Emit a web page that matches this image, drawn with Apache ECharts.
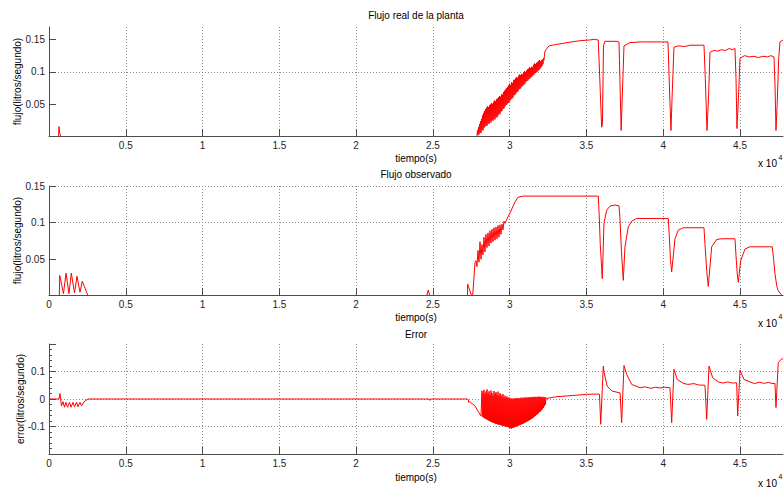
<!DOCTYPE html>
<html><head><meta charset="utf-8">
<script src="https://cdn.jsdelivr.net/npm/echarts@6/dist/echarts.min.js"></script>
<style>html,body{margin:0;padding:0;background:#fff}#c{width:784px;height:489px}</style>
</head><body><div id="c"></div>
<script>
// ---- data (time in seconds, flow in litros/segundo) ----
const t1 = [0, 620, 650, 690, 730, 760, 27800,
27871, 27904, 27936, 27969, 28002, 28034, 28067, 28099, 28132, 28164, 28197, 28230, 28262, 28295, 28327, 28360, 28392, 28425, 28457, 28490, 28523, 28555, 28588, 28620, 28653, 28685, 28718, 28750, 28783, 28815, 28848, 28881, 28913, 28946, 28978, 29011, 29044, 29076, 29109, 29141, 29174, 29206, 29239, 29271, 29304, 29337, 29369, 29402, 29434, 29467, 29499, 29532, 29565, 29597, 29630, 29662, 29695, 29727, 29760, 29792, 29825, 29858, 29890, 29923, 29955, 29988, 30020, 30053, 30085, 30118, 30151, 30183, 30216, 30248, 30281, 30313, 30346, 30378, 30411, 30444, 30476, 30509, 30541, 30574, 30606, 30639, 30672, 30704, 30737, 30769, 30802, 30834, 30867, 30900, 30932, 30965, 30997, 31030, 31062, 31095, 31127, 31160, 31193, 31225, 31258, 31290, 31323, 31355, 31388, 31420, 31453, 31486, 31518, 31551, 31583, 31616, 31648, 31681, 31714, 31746, 31779, 31811, 31844, 31876, 31909, 31941, 31974, 32007, 32039, 32072, 32104, 32137, 32169, 32202, 32235, 32267, 32300,
32560, 33000, 33500, 34000, 34600, 35200, 35500, 35771, 35900, 35990, 36040, 36110, 36200, 36533, 37000, 37119, 37190, 37260, 37330, 37445, 37836, 38500, 39138, 39800, 40310, 40400, 40505, 40590, 40701, 41000, 41400, 41743, 42200, 42655, 42740, 42850, 42950, 43045, 43300, 43550, 43800, 44050, 44300, 44500, 44673, 44740, 44803, 44900, 45000, 45300, 45600, 45900, 46200, 46500, 46800, 47000, 47213, 47280, 47343, 47420, 47520, 47603, 47800];
const v1 = [0, 0, 0.016, 0.006, 0.005, 0, 0,
0.001, 0.010, 0.003, 0.015, 0.004, 0.020, 0.007, 0.024, 0.006, 0.028,
0.011, 0.033, 0.010, 0.037, 0.014, 0.040, 0.016, 0.043, 0.018, 0.045,
0.017, 0.047, 0.021, 0.046, 0.020, 0.049, 0.024, 0.050, 0.022, 0.052,
0.026, 0.051, 0.025, 0.054, 0.028, 0.056, 0.027, 0.055, 0.031, 0.058,
0.030, 0.059, 0.033, 0.061, 0.036, 0.063, 0.035, 0.062, 0.039, 0.066,
0.040, 0.065, 0.043, 0.069, 0.044, 0.071, 0.047, 0.073, 0.049, 0.075,
0.050, 0.077, 0.052, 0.079, 0.053, 0.082, 0.056, 0.080, 0.058, 0.084,
0.059, 0.083, 0.061, 0.087, 0.064, 0.088, 0.065, 0.090, 0.067, 0.092,
0.069, 0.091, 0.070, 0.094, 0.073, 0.096, 0.074, 0.095, 0.076, 0.097,
0.078, 0.096, 0.079, 0.099, 0.081, 0.101, 0.082, 0.100, 0.085, 0.102,
0.086, 0.104, 0.087, 0.105, 0.089, 0.107, 0.090, 0.106, 0.092, 0.108,
0.093, 0.107, 0.095, 0.111, 0.096, 0.113, 0.098, 0.112, 0.099, 0.114,
0.100, 0.115, 0.102, 0.117, 0.103, 0.118, 0.105, 0.116, 0.107, 0.118,
0.109, 0.119, 0.112, 0.121, 0.118, 0.126, 0.132,
0.140, 0.142, 0.144, 0.146, 0.148, 0.149, 0.150, 0.149, 0.070, 0.015, 0.020, 0.140, 0.147, 0.147, 0.147, 0.146, 0.080, 0.010, 0.060, 0.140, 0.145, 0.146, 0.146, 0.146, 0.146, 0.080, 0.010, 0.070, 0.138, 0.140, 0.139, 0.141, 0.141, 0.141, 0.090, 0.010, 0.060, 0.130, 0.133, 0.132, 0.134, 0.133, 0.136, 0.134, 0.136, 0.090, 0.013, 0.060, 0.121, 0.125, 0.123, 0.124, 0.122, 0.124, 0.123, 0.125, 0.123, 0.080, 0.010, 0.050, 0.120, 0.146, 0.149];

const t2 = [0, 671, 700, 944, 1107, 1302, 1452, 1661, 1823, 2019, 2168, 2540, 24600, 24700, 24800, 27255, 27265, 27520, 27590, 27741,
27806, 27871, 27936, 28002, 28067, 28132, 28197, 28262, 28327, 28392, 28457, 28523, 28588, 28653, 28718, 28783, 28848, 28913, 28978, 29044, 29109, 29174, 29239, 29304, 29369, 29434, 29499, 29565, 29630, 29695,
29890, 30020, 30346, 30541, 30867, 35771, 35830, 35900, 36032, 36142, 36318, 36533, 36859, 37119, 37184, 37280, 37399, 37509, 37724, 37946, 38271, 40329, 40400, 40470, 40551, 40766, 40980, 41306, 42654, 42720, 42830, 42934, 43155, 43481, 43807, 44672, 44740, 44820, 44888, 45044, 45324, 45650, 47102, 47190, 47277, 47400, 47492, 47714, 47800];
const v2 = [0, 0, 0.028, 0.003, 0.031, 0.003, 0.031, 0.004, 0.027, 0.005, 0.020, 0, 0, 0.008, 0, 0, 0.016, 0, 0, 0.045,
0.048, 0.040, 0.062, 0.046, 0.074, 0.050, 0.070, 0.056, 0.080, 0.060, 0.084, 0.066, 0.086, 0.068, 0.089, 0.072, 0.091, 0.074, 0.093, 0.076, 0.094, 0.078, 0.096, 0.080, 0.097, 0.084, 0.098, 0.090, 0.102, 0.099,
0.108, 0.113, 0.128, 0.1345, 0.1362, 0.1362, 0.110, 0.070, 0.0235, 0.099, 0.117, 0.1226, 0.124, 0.123, 0.105, 0.060, 0.0212, 0.067, 0.094, 0.102, 0.1057, 0.1057, 0.080, 0.050, 0.0326, 0.078, 0.0897, 0.093, 0.093, 0.070, 0.035, 0.013, 0.067, 0.077, 0.078, 0.078, 0.055, 0.030, 0.0186, 0.048, 0.064, 0.067, 0.067, 0.050, 0.030, 0.013, 0.007, 0.001, 0];

const t3 = [0, 651, 716, 814, 912, 1009, 1107, 1205, 1335, 1433, 1563, 1661, 1791, 1888, 2019, 2116, 2279, 2540, 24750, 24800, 24850, 27250, 27306, 27330, 27400, 27741, 28000, 28132,
28197, 28230, 28262, 28295, 28327, 28360, 28392, 28425, 28457, 28490, 28523, 28555, 28588, 28620, 28653, 28685, 28718, 28750, 28783, 28815, 28848, 28881, 28913, 28946, 28978, 29011, 29044, 29076, 29109, 29141, 29174, 29206, 29239, 29271, 29304, 29337, 29369, 29402, 29434, 29467, 29499, 29532, 29565, 29597, 29630, 29662, 29695, 29727, 29760, 29792, 29825, 29858, 29890, 29923, 29955, 29988, 30020, 30053, 30085, 30118, 30151, 30183, 30216, 30248, 30281, 30313, 30346, 30378, 30411, 30444, 30476, 30509, 30541, 30574, 30606, 30639, 30672, 30704, 30737, 30769, 30802, 30834, 30867, 30900, 30932, 30965, 30997, 31030, 31062, 31095, 31127, 31160, 31193, 31225, 31258, 31290, 31323, 31355, 31388, 31420, 31453, 31486, 31518, 31551, 31583, 31616, 31648, 31681, 31714, 31746, 31779, 31811, 31844, 31876, 31909, 31941, 31974, 32007, 32039, 32072, 32104, 32137, 32169, 32202, 32235, 32267, 32300, 32332, 32365,
32410, 33000, 33713, 34400, 35015, 35836, 35850, 35930, 36099, 36150, 36350, 36670, 37190, 37293, 37445, 37620, 37946, 38490, 38800, 39200, 39500, 39800, 40100, 40440, 40551, 40701, 40915, 41306, 41600, 42000, 42300, 42719, 42830, 42980, 43220, 43590, 43900, 44200, 44500, 44782, 44848, 45000, 45260, 45650, 45950, 46250, 46550, 46850, 47150, 47277, 47343, 47492, 47714, 47800];
const v3 = [0, 0, 0.020, -0.025, -0.010, -0.030, -0.012, -0.030, -0.012, -0.030, -0.012, -0.028, -0.012, -0.028, -0.012, -0.025, -0.010, 0, 0, -0.005, 0, 0, -0.002, -0.012, -0.010, -0.025, -0.050, -0.062,
0.030, -0.065, 0.022, -0.067, 0.033, -0.070, 0.018, -0.072, 0.027, -0.074,
0.035, -0.076, 0.020, -0.078, 0.028, -0.080, 0.015, -0.082, 0.031, -0.084,
0.022, -0.085, 0.012, -0.087, 0.029, -0.088, 0.019, -0.090, 0.025, -0.091,
0.014, -0.092, 0.027, -0.093, 0.010, -0.094, 0.021, -0.095, 0.016, -0.096,
0.008, -0.097, 0.018, -0.098, 0.006, -0.099, 0.012, -0.100, 0.004, -0.101,
0.009, -0.102, 0.002, -0.103, 0.006, -0.105, 0.000, -0.106, 0.003, -0.107,
-0.001, -0.105, 0.002, -0.104, 0.000, -0.103, 0.003, -0.101, 0.001, -0.100,
0.004, -0.098, 0.001, -0.097, 0.003, -0.095, 0.002, -0.094, 0.005, -0.092,
0.002, -0.091, 0.005, -0.089, 0.003, -0.087, 0.006, -0.085, 0.004, -0.083,
0.006, -0.081, 0.004, -0.079, 0.007, -0.077, 0.005, -0.075, 0.007, -0.072,
0.005, -0.070, 0.008, -0.067, 0.006, -0.064, 0.008, -0.061, 0.006, -0.058,
0.008, -0.055, 0.007, -0.052, 0.009, -0.048, 0.007, -0.045, 0.008, -0.041,
0.006, -0.037, 0.008, -0.032, 0.006, -0.026, 0.007, -0.020, 0.005,
0.002, 0.008, 0.011, 0.014, 0.017, 0.018, 0.015, -0.092, 0.120, 0.096, 0.047, 0.029, 0.022, -0.086, 0.122, 0.090, 0.053, 0.041, 0.044, 0.039, 0.043, 0.040, 0.043, 0.041, -0.086, 0.108, 0.071, 0.057, 0.053, 0.056, 0.051, 0.050, -0.074, 0.120, 0.077, 0.062, 0.058, 0.062, 0.058, 0.059, -0.062, 0.105, 0.071, 0.062, 0.056, 0.061, 0.057, 0.060, 0.056, 0.057, -0.031, 0.132, 0.146, 0.146];

const titles = ['Flujo real de la planta', 'Flujo observado', 'Error'];
const yNames = ['flujo(litros/segundo)', 'flujo(litros/segundo)', 'error(litros/segundo)'];
const xName = 'tiempo(s)';
const yTicks1 = [0.05, 0.1, 0.15];
const yTicks2 = [0.05, 0.1, 0.15];
const yTicks3 = [-0.1, 0, 0.1];
const X_MAX = 47800;

// ---- build ----
const zip = (t, v) => t.map((x, i) => [x, v[i]]);
const FONT = '"Liberation Sans", Arial, Helvetica, sans-serif';
const AX = '#4d4d4d';
const GRIDC = '#8a8a8a';
const grids = [
  {left: 49, top: 27, width: 734, height: 109},
  {left: 49, top: 186, width: 734, height: 109},
  {left: 49, top: 344, width: 734, height: 110}
];
function xAx(gi, showZero) {
  return {type: 'value', gridIndex: gi, min: 0, max: X_MAX, interval: 5000, position: 'bottom', z: 0,
    axisLine: {show: false, onZero: false},
    axisTick: {show: true, inside: true, length: 7, lineStyle: {color: AX}},
    axisLabel: {margin: 4, color: '#262626', fontSize: 10, fontFamily: FONT, showMaxLabel: false,
      formatter: v => (v % 5000 !== 0 || (v === 0 && !showZero)) ? '' : String(v / 10000)},
    splitLine: {show: true, showMaxLine: false, lineStyle: {color: GRIDC, type: [1, 2], width: 1}}};
}
function xLine(gi) {
  return {type: 'value', gridIndex: gi, min: 0, max: X_MAX, position: 'bottom', z: 10,
    axisLine: {show: true, onZero: false, lineStyle: {color: AX, width: 1}},
    axisTick: {show: false}, axisLabel: {show: false}, splitLine: {show: false}};
}
function lbl(ticks) {
  return v => ticks.some(t => Math.abs(t - v) < 1e-9) ? String(+v.toFixed(2)) : '';
}
// y axis whose lower limit sits just above zero (as in the original), ticks given explicitly
function yAxCustom(gi, min, max, ticks, showMax) {
  return {type: 'value', gridIndex: gi, min: min, max: max, z: 0,
    axisLine: {show: true, onZero: false, lineStyle: {color: AX, width: 1}},
    axisTick: {show: true, inside: true, length: 7, customValues: ticks, lineStyle: {color: AX}},
    axisLabel: {margin: 4, color: '#262626', fontSize: 10, fontFamily: FONT, customValues: ticks, formatter: lbl(ticks)},
    splitLine: {show: true, showMaxLine: !!showMax, showMinLine: false, lineStyle: {color: GRIDC, type: [1, 2], width: 1}}};
}
function yAx(gi, min, max, interval, ticks) {
  return {type: 'value', gridIndex: gi, min: min, max: max, interval: interval, z: 0,
    axisLine: {show: true, onZero: false, lineStyle: {color: AX, width: 1}},
    axisTick: {show: true, inside: true, length: 7, lineStyle: {color: AX}},
    minorTick: {show: true, splitNumber: 5, length: 3, lineStyle: {color: AX}},
    axisLabel: {margin: 4, color: '#262626', fontSize: 10, fontFamily: FONT, formatter: lbl(ticks)},
    splitLine: {show: true, showMaxLine: false, showMinLine: false, lineStyle: {color: GRIDC, type: [1, 2], width: 1}}};
}
function txt(x, y, s, opts) {
  opts = opts || {};
  return {type: 'text', x: x, y: y, rotation: opts.rot || 0, z: 20,
    style: {text: s, fill: '#000', font: (opts.size || 10) + 'px ' + FONT,
      align: opts.align || 'center', textAlign: opts.align || 'center',
      verticalAlign: 'middle', textVerticalAlign: 'middle'}};
}
const titleY = [15, 174, 334];
const xNameY = [158, 317, 477];
const expY = [163.5, 323, 483];
const yNameX = [17, 17, 20];
const graphics = [];
for (let i = 0; i < 3; i++) {
  const g = grids[i];
  graphics.push(txt(416, titleY[i], titles[i]));
  graphics.push(txt(416, xNameY[i], xName));
  graphics.push(txt(777, expY[i], 'x 10', {align: 'right'}));
  graphics.push(txt(778.5, expY[i] - 6.5, '4', {align: 'left', size: 7}));
  graphics.push(txt(yNameX[i], g.top + g.height / 2, yNames[i], {rot: Math.PI / 2}));
}
const lineS = (idx, data) => ({type: 'line', xAxisIndex: idx, yAxisIndex: idx, data: data, z: 2,
  showSymbol: false, symbol: 'none', clip: true, animation: false,
  lineStyle: {color: '#ff0000', width: 1}, itemStyle: {color: '#ff0000'}});

const chart = echarts.init(document.getElementById('c'), null, {renderer: 'svg', width: 784, height: 489});
chart.setOption({
  animation: false,
  backgroundColor: '#ffffff',
  grid: grids,
  xAxis: [xAx(0, false), xAx(1, true), xAx(2, true), xLine(0), xLine(1), xLine(2)],
  yAxis: [yAxCustom(0, 0.0015, 0.169, yTicks1, false), yAxCustom(1, 0.0012, 0.15, yTicks2, true), yAx(2, -0.2, 0.2, 0.1, yTicks3)],
  graphic: graphics,
  series: [lineS(0, zip(t1, v1)), lineS(1, zip(t2, v2)), lineS(2, zip(t3, v3))]
});
</script>
</body></html>
